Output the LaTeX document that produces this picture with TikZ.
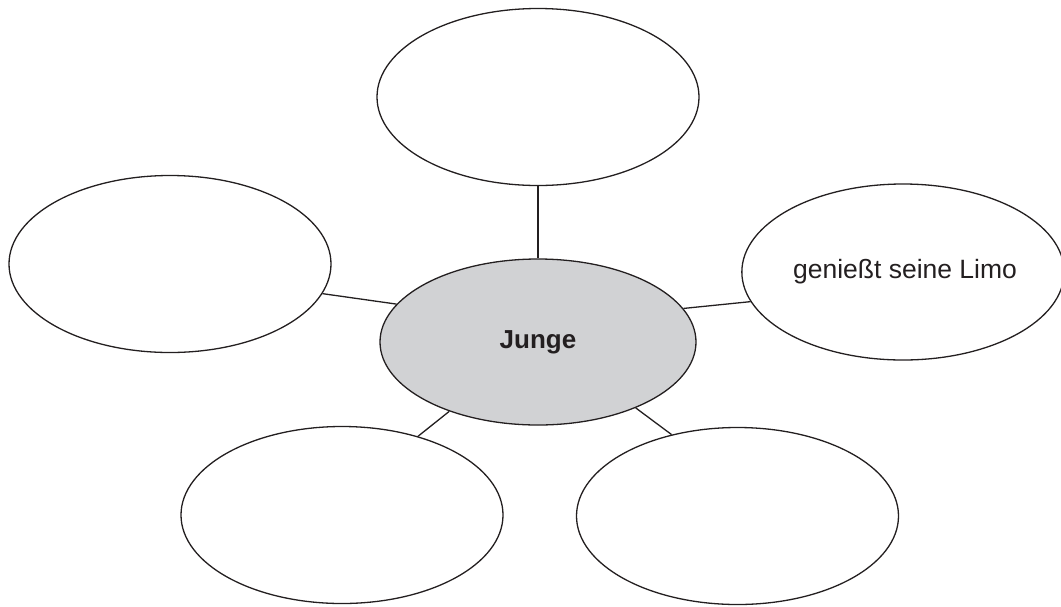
\documentclass[tikz,border=0pt]{standalone}
\usepackage{fontspec}
\setmainfont{Liberation Sans}
\usetikzlibrary{shapes.geometric}
\definecolor{centerfill}{RGB}{209,210,212}
\definecolor{inkcol}{RGB}{35,31,32}
\tikzset{
  bubble/.style={ellipse, draw=inkcol, line width=1.3pt, inner sep=0pt,
    minimum width=322pt, minimum height=177pt, font=\fontsize{26.5}{31}\selectfont, text=inkcol},
  hub/.style={bubble, fill=centerfill, minimum width=316pt, minimum height=166pt, font=\fontsize{26}{31}\selectfont\bfseries},
  link/.style={draw=inkcol, line width=1.3pt}
}
\begin{document}
\begin{tikzpicture}[x=1pt,y=-1pt]
\useasboundingbox (0,0) rectangle (1061,606);
\node[hub] (c) at (538,342) {Junge};
\node[bubble] (t) at (538,97) {};
\node[bubble] (l) at (170,264) {};
\node[bubble, minimum width=318pt, minimum height=176pt] (r) at (903,272) {\hspace*{4pt}genießt seine Limo};
\node[bubble] (bl) at (342,515) {};
\node[bubble] (br) at (737.5,516) {};
\draw[link] (t.south) -- (c.north);
\draw[link] (l.-11.5) -- (c.165.7);
\draw[link] (c.13.7) -- (r.-169.9);
\draw[link] (c.-142.8) -- (bl.46.1);
\draw[link] (c.-34.4) -- (br.129.1);
\end{tikzpicture}
\end{document}
